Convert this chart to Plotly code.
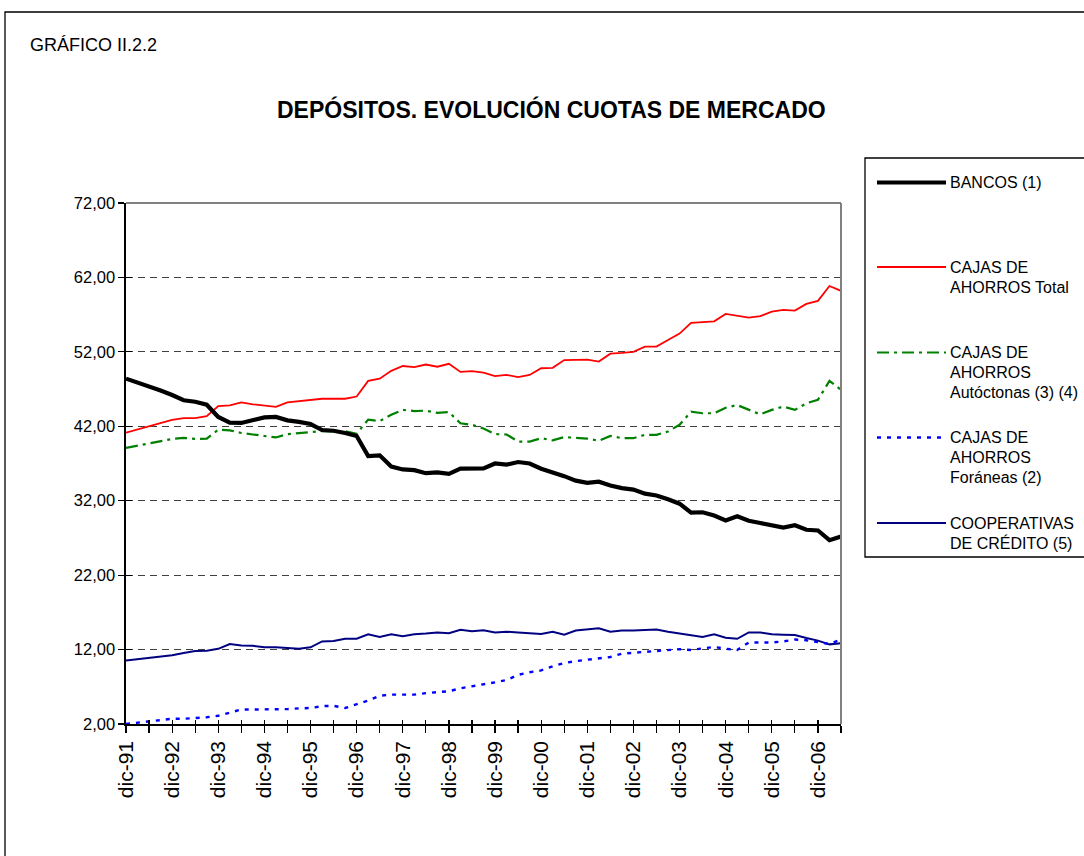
import plotly.graph_objects as go

# ---------------- data ----------------
months = ["mar", "jun", "sep", "dic"]
categories = ["dic-91"] + [f"{m}-{y:02d}" for y in list(range(92, 100)) + list(range(0, 8)) for m in months][:62]

bancos = [48.4, 47.9, 47.3, 46.8, 46.2, 45.5, 45.3, 44.9, 43.25, 42.5, 42.45, 42.8, 43.2, 43.25, 42.8, 42.6,
          42.3, 41.5, 41.4, 41.1, 40.7, 38.0, 38.1, 36.6, 36.2, 36.1, 35.7, 35.8, 35.6, 36.3, 36.3, 36.35,
          37.0, 36.85, 37.2, 37.0, 36.3, 35.85, 35.3, 34.7, 34.4, 34.55, 34.05, 33.7, 33.5, 32.95, 32.7, 32.2,
          31.6, 30.4, 30.45, 30.0, 29.35, 29.9, 29.3, 29.0, 28.7, 28.4, 28.7, 28.1, 28.0, 26.7, 27.2]
cajas_total = [41.15, 41.55, 42.0, 42.4, 42.85, 43.1, 43.1, 43.35, 44.7, 44.8, 45.2, 44.95, 44.8, 44.6, 45.2, 45.35,
               45.5, 45.7, 45.7, 45.7, 46.0, 48.1, 48.4, 49.45, 50.1, 49.95, 50.3, 50.0, 50.4, 49.3, 49.4, 49.2,
               48.75, 48.9, 48.6, 48.9, 49.8, 49.85, 50.9, 50.95, 50.95, 50.7, 51.75, 51.85, 52.0, 52.7, 52.7, 53.6,
               54.45, 55.9, 55.95, 56.1, 57.1, 56.85, 56.6, 56.8, 57.4, 57.65, 57.55, 58.45, 58.85, 60.85, 60.2]
cajas_autoctonas = [39.1, 39.4, 39.7, 40.0, 40.3, 40.45, 40.3, 40.35, 41.55, 41.45, 41.1, 40.9, 40.65, 40.5, 40.95, 41.1,
                    41.25, 41.35, 41.3, 41.35, 41.0, 42.9, 42.7, 43.55, 44.2, 44.05, 44.1, 43.8, 43.9, 42.4, 42.2, 41.7,
                    40.95, 40.9, 39.95, 39.95, 40.4, 40.1, 40.55, 40.45, 40.35, 40.05, 40.7, 40.4, 40.4, 40.85, 40.85, 41.3,
                    42.2, 43.95, 43.75, 43.75, 44.5, 44.85, 44.2, 43.6, 44.2, 44.65, 44.2, 45.1, 45.55, 48.1, 46.9]
cajas_foraneas = [2.0, 2.15, 2.35, 2.55, 2.7, 2.7, 2.8, 2.9, 3.1, 3.5, 3.95, 3.95, 3.95, 3.95, 4.0, 4.1,
                  4.15, 4.4, 4.45, 4.15, 4.65, 5.15, 5.8, 5.95, 5.95, 5.95, 6.15, 6.25, 6.4, 6.8, 7.05, 7.25,
                  7.6, 7.9, 8.6, 8.95, 9.2, 9.75, 10.2, 10.45, 10.6, 10.75, 11.0, 11.45, 11.55, 11.7, 11.8, 11.95,
                  12.05, 11.95, 12.1, 12.35, 12.1, 11.95, 12.95, 12.95, 12.95, 13.1, 13.35, 13.25, 13.05, 12.75, 13.35]
cooperativas = [10.52, 10.7, 10.9, 11.05, 11.25, 11.55, 11.8, 11.85, 12.1, 12.75, 12.55, 12.5, 12.3, 12.3, 12.2, 12.1,
                12.3, 13.1, 13.15, 13.45, 13.45, 14.05, 13.7, 14.05, 13.8, 14.05, 14.15, 14.3, 14.2, 14.65, 14.45, 14.6,
                14.3, 14.4, 14.3, 14.15, 14.1, 14.4, 14.0, 14.55, 14.75, 14.85, 14.4, 14.55, 14.55, 14.65, 14.7, 14.4,
                14.15, 14.0, 13.7, 14.05, 13.6, 13.45, 14.3, 14.3, 14.05, 14.0, 13.95, 13.55, 13.2, 12.7, 12.85]

series_names = ["BANCOS (1)", "CAJAS DE<br>AHORROS Total", "CAJAS DE<br>AHORROS<br>Autóctonas (3) (4)",
                "CAJAS DE<br>AHORROS<br>Foráneas (2)", "COOPERATIVAS<br>DE CRÉDITO (5)"]
series_values = [bancos, cajas_total, cajas_autoctonas, cajas_foraneas, cooperativas]
y_ticks = [2, 12, 22, 32, 42, 52, 62, 72]

styles = [
    dict(color="#000000", width=4.2),
    dict(color="#FF0000", width=1.8),
    dict(color="#008000", width=2.2, dash="12px,5px,3px,5px"),
    dict(color="#0000FF", width=2.4, dash="4px,6px"),
    dict(color="#000080", width=2.0),
]

FONT = "Liberation Sans, Arial, sans-serif"
W, H = 1084, 856
L, R, T, B = 126, 243, 203, 132


def px(x):
    return (x - L) / (W - L - R)


def py(y):
    return (H - B - y) / (H - T - B)


fig = go.Figure()
draw_order = [4, 3, 2, 1, 0]
for k in draw_order:
    fig.add_trace(go.Scatter(x=categories, y=series_values[k], mode="lines", name=series_names[k],
                             line=styles[k], showlegend=False, hoverinfo="skip"))

# dummy trace for inside ticks (cross ticks)
fig.add_trace(go.Scatter(x=[None], y=[None], xaxis="x2", yaxis="y2", showlegend=False, hoverinfo="skip"))

tickvals_x = categories[::2]
ticktext_x = [c if c.startswith("dic") else "" for c in tickvals_x]

fig.update_layout(
    width=W, height=H,
    margin=dict(l=L, r=R, t=T, b=B, autoexpand=False),
    paper_bgcolor="white", plot_bgcolor="white",
    separators=",.",
    font=dict(family=FONT, color="black"),
    showlegend=False,
    hovermode=False,
    xaxis=dict(type="category", range=[0, len(categories) - 1], tickmode="array",
               tickvals=tickvals_x, ticktext=ticktext_x, tickangle=-90,
               tickfont=dict(size=21, family=FONT), ticks="outside", ticklen=7, tickwidth=1.2,
               tickcolor="black", showline=True, linecolor="black", linewidth=1.6,
               showgrid=False, zeroline=False, categoryorder="array", categoryarray=categories),
    yaxis=dict(range=[2, 72], tickmode="array", tickvals=y_ticks, tickformat=".2f",
               tickfont=dict(size=16.5, family=FONT), ticks="outside", ticklen=6, tickwidth=1.2,
               tickcolor="black", showline=True, linecolor="black", linewidth=1.6,
               showgrid=True, gridcolor="#404040", gridwidth=1, griddash="7px,5px", zeroline=False),
    xaxis2=dict(overlaying="x", type="category", range=[0, len(categories) - 1], tickmode="array",
                tickvals=tickvals_x, showticklabels=False, ticks="inside", ticklen=4, tickwidth=1.2,
                tickcolor="black", showgrid=False, zeroline=False, showline=False,
                categoryorder="array", categoryarray=categories),
    yaxis2=dict(overlaying="y", range=[2, 72], tickmode="array", tickvals=y_ticks,
                showticklabels=False, ticks="inside", ticklen=6, tickwidth=1.2, tickcolor="black",
                showgrid=False, zeroline=False, showline=False),
)

shapes = []
# plot area border (top & right) in gray
shapes.append(dict(type="line", xref="paper", yref="paper", x0=0, x1=1, y0=1, y1=1,
                   line=dict(color="#808080", width=2), layer="above"))
shapes.append(dict(type="line", xref="paper", yref="paper", x0=1, x1=1, y0=0, y1=1,
                   line=dict(color="#808080", width=2), layer="above"))
# outer frame
shapes.append(dict(type="rect", xref="paper", yref="paper", x0=px(5), x1=px(1100), y0=py(870), y1=py(12),
                   line=dict(color="black", width=1.3)))
# legend frame
shapes.append(dict(type="rect", xref="paper", yref="paper", x0=px(865), x1=px(1100), y0=py(557), y1=py(158),
                   line=dict(color="black", width=1.3)))

annotations = []
legend_y = [182.5, 267, 352.5, 437.5, 523]
line_h = 20
for k in range(len(series_names)):
    yc = legend_y[k]
    st = styles[k]
    shapes.append(dict(type="line", xref="paper", yref="paper", x0=px(877), x1=px(946), y0=py(yc), y1=py(yc),
                       line=dict(color=st["color"], width=st["width"], dash=st.get("dash", "solid"))))
    for j, txt in enumerate(series_names[k].split("<br>")):
        annotations.append(dict(xref="paper", yref="paper", x=px(948), y=py(yc + j * line_h), text=txt,
                                showarrow=False, xanchor="left", yanchor="middle",
                                font=dict(size=16, family=FONT, color="black")))

annotations.append(dict(xref="paper", yref="paper", x=px(28), y=py(45), text="GRÁFICO II.2.2",
                        showarrow=False, xanchor="left", yanchor="middle",
                        font=dict(size=18, family=FONT, color="black")))
annotations.append(dict(xref="paper", yref="paper", x=px(551), y=py(109),
                        text="<b>DEPÓSITOS. EVOLUCIÓN CUOTAS DE MERCADO</b>",
                        showarrow=False, xanchor="center", yanchor="middle",
                        font=dict(size=23, family=FONT, color="black")))

fig.update_layout(shapes=shapes, annotations=annotations)
fig.write_html("out.html", config={"displayModeBar": False, "staticPlot": True},
               post_script="document.body.style.margin='0';document.body.style.overflow='hidden';")
